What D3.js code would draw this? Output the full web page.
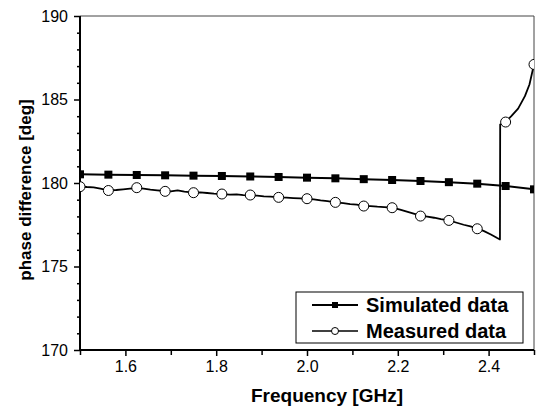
<!DOCTYPE html>
<html>
<head>
<meta charset="utf-8">
<script src="https://cdn.jsdelivr.net/npm/d3@7/dist/d3.min.js"></script>
<style>
  html, body { margin: 0; padding: 0; background: #fff; }
  svg { display: block; }
  text { font-family: "Liberation Sans", Arial, sans-serif; fill: #000; }
</style>
</head>
<body>
<svg id="chart" width="539" height="411"></svg>
<script>
// ---- data ----
const markerFreq = [1.5, 1.5625, 1.625, 1.6875, 1.75, 1.8125, 1.875, 1.9375, 2.0,
                    2.0625, 2.125, 2.1875, 2.25, 2.3125, 2.375, 2.4375, 2.5];
const simulated = [180.52, 180.50, 180.48, 180.46, 180.44, 180.42, 180.39, 180.36, 180.32,
                   180.28, 180.23, 180.18, 180.12, 180.05, 179.96, 179.82, 179.62];
const measuredMarkers = [179.78, 179.55, 179.72, 179.50, 179.42, 179.34, 179.28, 179.14, 179.06,
                         178.84, 178.62, 178.52, 178.02, 177.76, 177.26, 183.65, 187.10];
const measuredFreq = [1.500, 1.515, 1.530, 1.545, 1.5625, 1.580, 1.595, 1.610, 1.625, 1.640,
  1.655, 1.670, 1.6875, 1.700, 1.715, 1.730, 1.750, 1.765, 1.780, 1.795, 1.8125, 1.830, 1.845,
  1.860, 1.875, 1.890, 1.905, 1.920, 1.9375, 1.955, 1.970, 1.985, 2.000, 2.015, 2.030, 2.045,
  2.0625, 2.080, 2.095, 2.110, 2.125, 2.140, 2.155, 2.170, 2.1875, 2.205, 2.220, 2.235, 2.250,
  2.265, 2.280, 2.295, 2.3125, 2.330, 2.345, 2.360, 2.375, 2.390, 2.405, 2.418, 2.425, 2.4255,
  2.4375, 2.450, 2.465, 2.480, 2.490, 2.500];
const measuredPhase = [179.80, 179.76, 179.74, 179.66, 179.56, 179.58, 179.62, 179.66, 179.70, 179.66,
  179.60, 179.56, 179.52, 179.50, 179.56, 179.48, 179.42, 179.44, 179.40, 179.36, 179.34, 179.30, 179.32,
  179.28, 179.26, 179.24, 179.20, 179.18, 179.14, 179.12, 179.10, 179.08, 179.05, 179.02, 178.96, 178.92,
  178.84, 178.80, 178.74, 178.70, 178.62, 178.62, 178.58, 178.56, 178.52, 178.40, 178.28, 178.16, 178.04,
  177.98, 177.92, 177.84, 177.76, 177.62, 177.50, 177.40, 177.28, 177.12, 176.92, 176.72, 176.62, 183.50,
  183.66, 184.00, 184.45, 185.20, 185.90, 187.10];
const xMajorTicks = [1.6, 1.8, 2.0, 2.2, 2.4];
const xMinorTicks = [1.5, 1.7, 1.9, 2.1, 2.3, 2.5];
const yMajorTicks = [170, 175, 180, 185, 190];
const yMinorTicks = [171, 172, 173, 174, 176, 177, 178, 179, 181, 182, 183, 184, 186, 187, 188, 189];
const seriesNames = ["Simulated data", "Measured data"];
const xTitle = "Frequency [GHz]";
const yTitle = "phase difference [deg]";

// ---- layout ----
const svg = d3.select("#chart");
const L = 80, R = 534, T = 16, B = 350;
const x = d3.scaleLinear().domain([1.5, 2.5]).range([L, R]);
const y = d3.scaleLinear().domain([170, 190]).range([B, T]);

svg.append("defs").append("clipPath").attr("id", "clip")
  .append("rect").attr("x", L).attr("y", T).attr("width", R - L).attr("height", B - T);

// frame (top/right thin)
svg.append("line").attr("x1", L).attr("x2", R).attr("y1", T).attr("y2", T)
  .attr("stroke", "#444").attr("stroke-width", 1);
svg.append("line").attr("x1", R).attr("x2", R).attr("y1", T).attr("y2", B)
  .attr("stroke", "#444").attr("stroke-width", 1);

// axes
const gx = svg.append("g").attr("transform", `translate(0,${B})`)
  .call(d3.axisBottom(x).tickValues(xMajorTicks).tickSize(6).tickPadding(5).tickFormat(d3.format(".1f")));
const gxm = svg.append("g").attr("transform", `translate(0,${B})`)
  .call(d3.axisBottom(x).tickValues(xMinorTicks).tickSize(5).tickFormat(""));
const gy = svg.append("g").attr("transform", `translate(${L},0)`)
  .call(d3.axisLeft(y).tickValues(yMajorTicks).tickSize(6).tickPadding(6));
const gym = svg.append("g").attr("transform", `translate(${L},0)`)
  .call(d3.axisLeft(y).tickValues(yMinorTicks).tickSize(3).tickFormat(""));

[gx, gxm, gy, gym].forEach(g => {
  g.select(".domain").attr("stroke", "#000").attr("stroke-width", 2);
  g.selectAll(".tick line").attr("stroke", "#000").attr("stroke-width", 1.5);
  g.selectAll("text").attr("font-size", 16).attr("font-family", "Liberation Sans, Arial, sans-serif");
});
gx.select(".domain").attr("d", `M${L - 1},0H${R}`);
gxm.select(".domain").remove();
gym.select(".domain").remove();
gy.select(".domain").attr("d", `M0,${B + 1}V${T}`);

// titles
svg.append("text").attr("x", 327).attr("y", 402).attr("text-anchor", "middle")
  .attr("font-size", 19).attr("font-weight", "bold").text(xTitle);
svg.append("text").attr("transform", "translate(31,190) rotate(-90)").attr("text-anchor", "middle")
  .attr("font-size", 17).attr("font-weight", "bold").text(yTitle);

// plot
const plot = svg.append("g").attr("clip-path", "url(#clip)");
const simData = markerFreq.map((f, i) => [f, simulated[i]]);
const meaData = measuredFreq.map((f, i) => [f, measuredPhase[i]]);
const meaMarkers = markerFreq.map((f, i) => [f, measuredMarkers[i]]);
const line = d3.line().x(d => x(d[0])).y(d => y(d[1]));

plot.append("path").datum(meaData).attr("d", line)
  .attr("fill", "none").attr("stroke", "#000").attr("stroke-width", 1.8).attr("stroke-linejoin", "round");
plot.append("path").datum(simData).attr("d", line)
  .attr("fill", "none").attr("stroke", "#000").attr("stroke-width", 2);

plot.selectAll("rect.sq").data(simData).join("rect").attr("class", "sq")
  .attr("x", d => x(d[0]) - 4).attr("y", d => y(d[1]) - 4)
  .attr("width", 8).attr("height", 8).attr("fill", "#000");
plot.selectAll("circle.ci").data(meaMarkers).join("circle").attr("class", "ci")
  .attr("cx", d => x(d[0])).attr("cy", d => y(d[1])).attr("r", 5)
  .attr("fill", "#fff").attr("stroke", "#000").attr("stroke-width", 1);

// legend
const lg = svg.append("g");
lg.append("rect").attr("x", 296).attr("y", 292).attr("width", 227).attr("height", 51)
  .attr("fill", "#fff").attr("stroke", "#000").attr("stroke-width", 1);
const rows = [305, 331];
seriesNames.forEach((name, i) => {
  const yy = rows[i];
  lg.append("line").attr("x1", 312).attr("x2", 358).attr("y1", yy).attr("y2", yy)
    .attr("stroke", "#000").attr("stroke-width", i === 0 ? 2 : 1.5);
  if (i === 0) {
    lg.append("rect").attr("x", 332).attr("y", yy - 3).attr("width", 6).attr("height", 6).attr("fill", "#000");
  } else {
    lg.append("circle").attr("cx", 335).attr("cy", yy).attr("r", 3.5)
      .attr("fill", "#fff").attr("stroke", "#000").attr("stroke-width", 1);
  }
  lg.append("text").attr("x", 366).attr("y", yy + 7).attr("font-size", 20)
    .attr("font-weight", "bold").text(name);
});
</script>
</body>
</html>
